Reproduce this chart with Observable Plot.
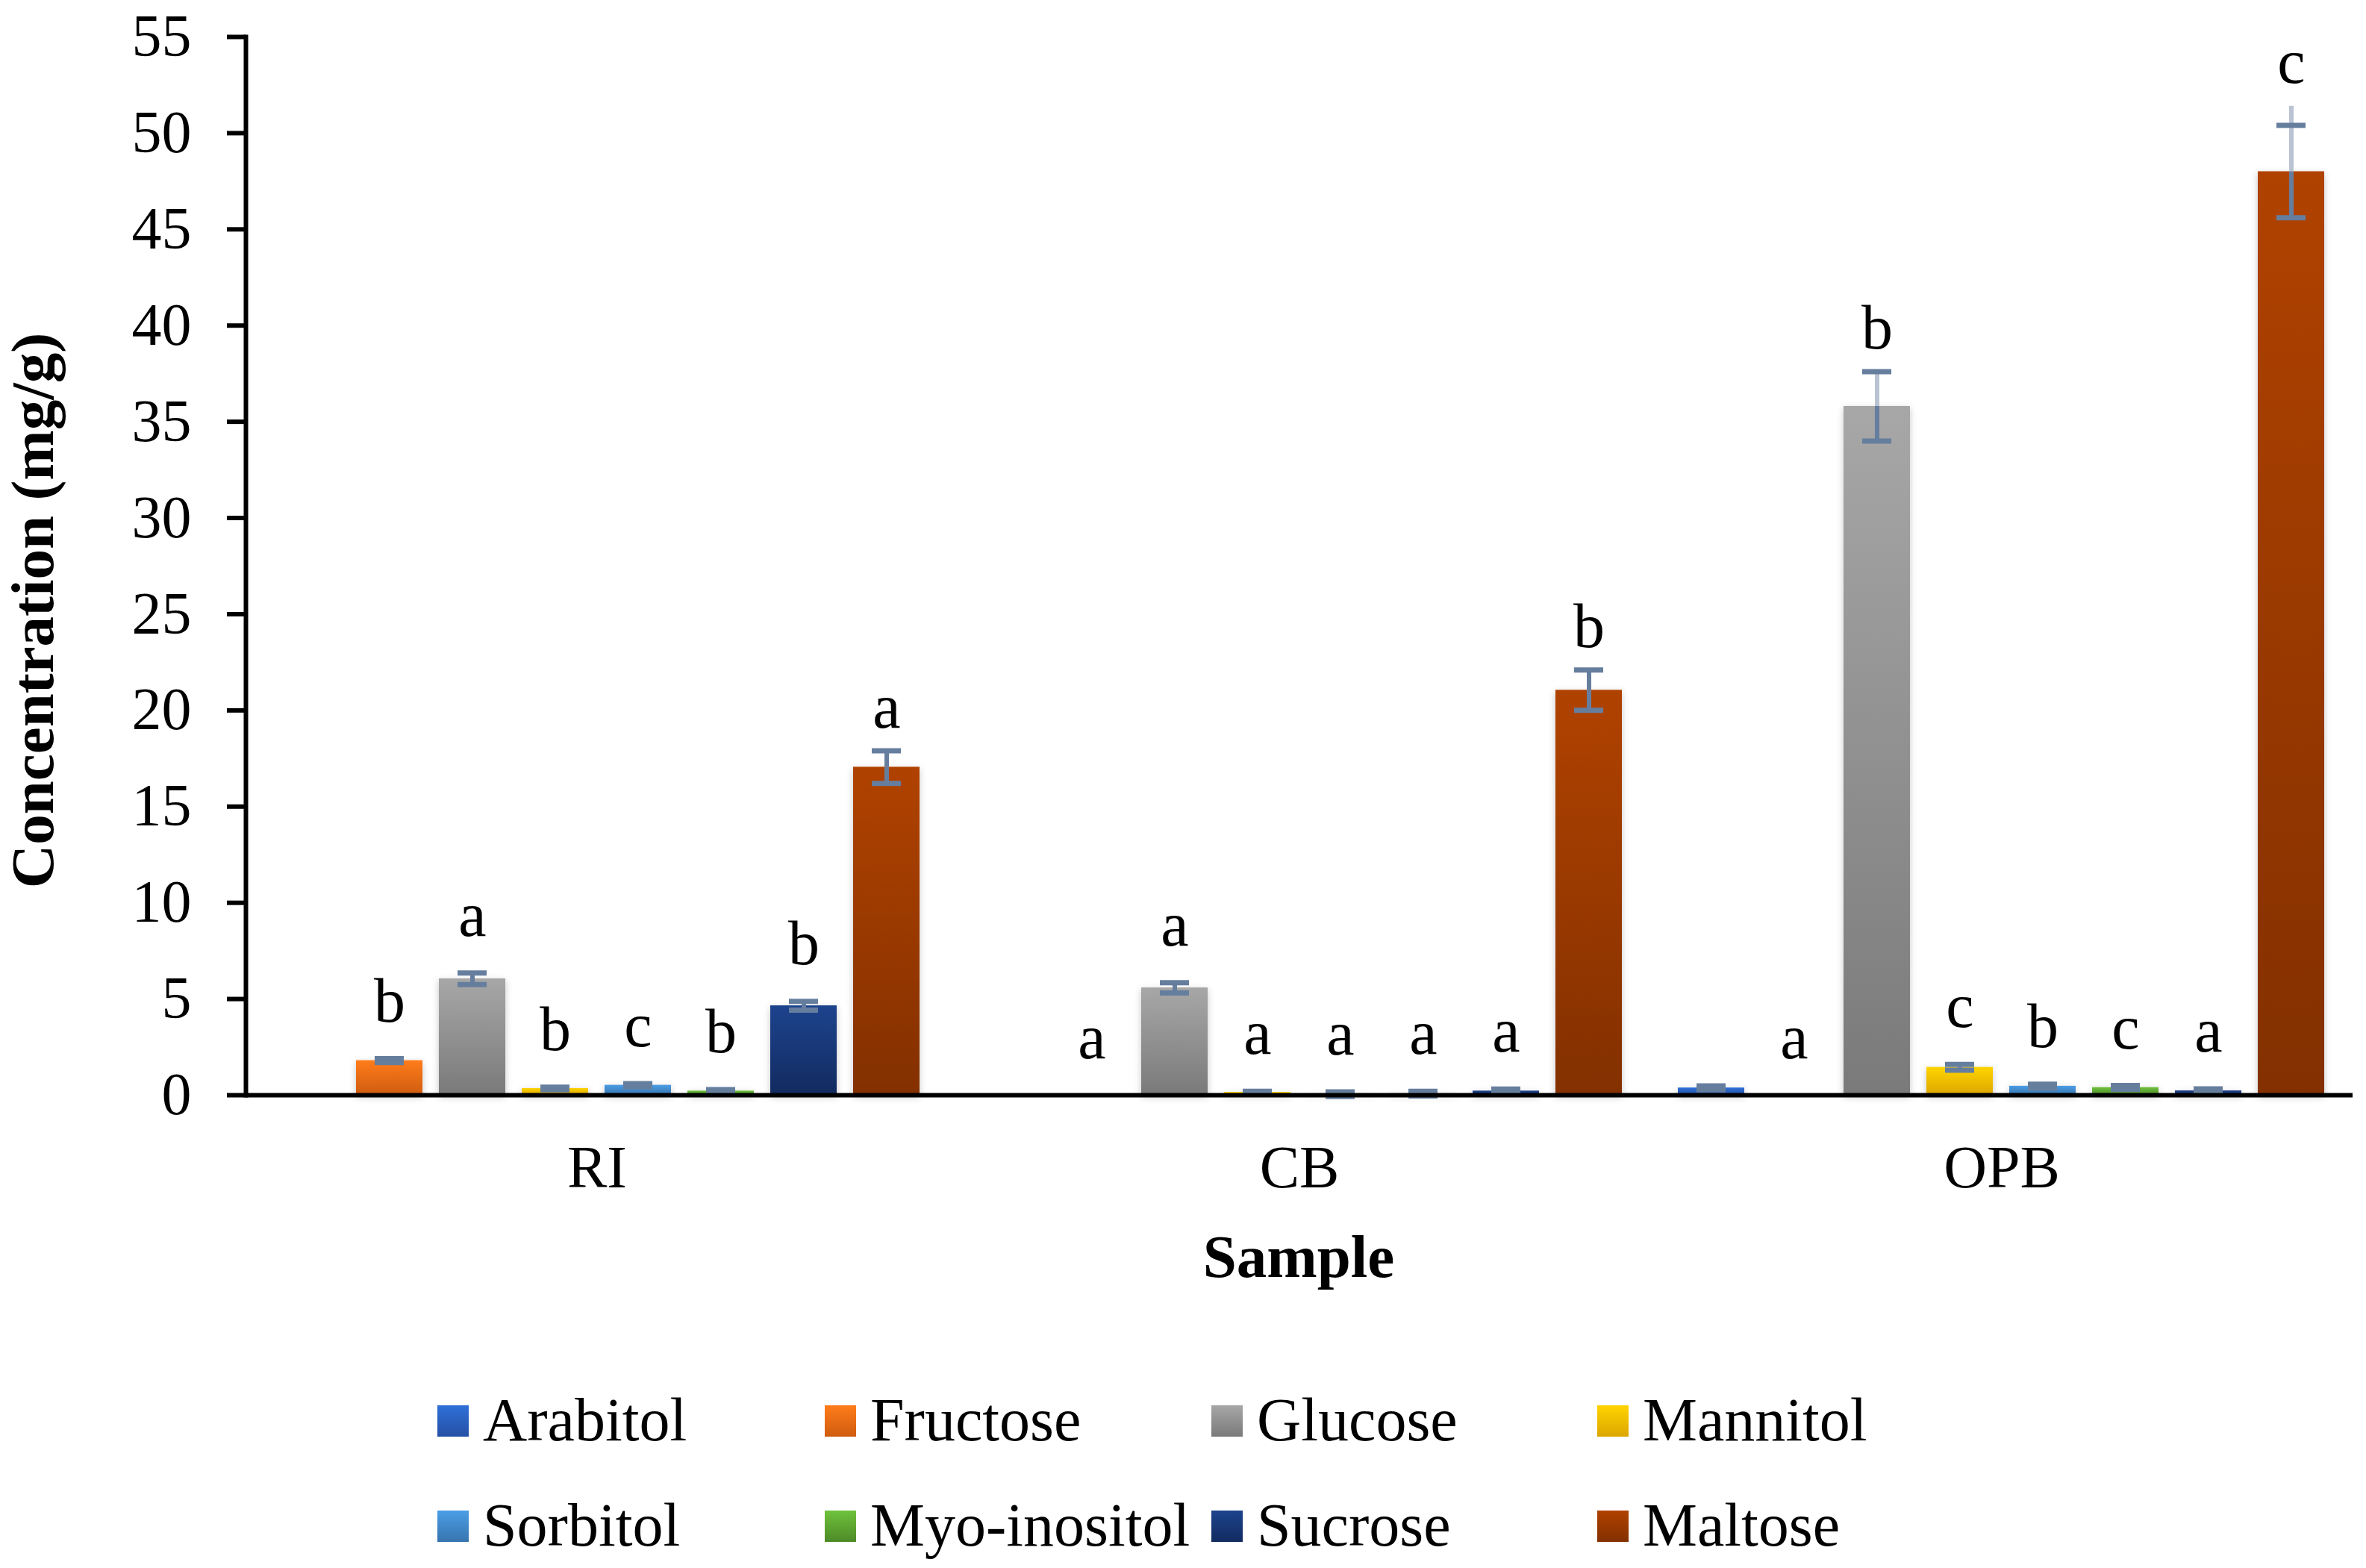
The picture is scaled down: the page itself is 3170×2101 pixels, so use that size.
<!DOCTYPE html>
<html>
<head>
<meta charset="utf-8">
<script src="https://cdn.jsdelivr.net/npm/d3@7"></script>
<script src="https://cdn.jsdelivr.net/npm/@observablehq/plot@0.6"></script>
<style>
  html, body { margin: 0; padding: 0; background: #ffffff; }
  #wrap { position: relative; width: 3170px; height: 2101px; background: #ffffff; font-family: "Liberation Serif", "Times New Roman", serif; color: #000; }
  #chart { position: absolute; left: 0; top: 0; }
  #ytitle { position: absolute; left: 44px; top: 818px; font-size: 81px; font-weight: bold; white-space: nowrap; line-height: 1; transform: translate(-50%, -50%) rotate(-90deg); }
  #xtitle { position: absolute; left: 1740px; top: 1644px; font-size: 81px; font-weight: bold; line-height: 1; transform: translateX(-50%); white-space: nowrap; }
  .leg { position: absolute; font-size: 82px; line-height: 1; white-space: nowrap; }
  .leg .sw { position: absolute; left: 0; top: 21px; width: 42px; height: 42px; }
  .leg .lb { position: absolute; left: 61px; top: 0; }
  svg g[aria-label="bar"] rect { filter: drop-shadow(0px 3px 5px rgba(0,0,0,0.22)); }
</style>
</head>
<body>
<div id="wrap">
  <svg width="0" height="0" style="position:absolute" id="defs"><defs></defs></svg>
  <div id="chart"></div>
  <div id="ytitle">Concentration (mg/g)</div>
  <div id="xtitle">Sample</div>
  <div id="legend"></div>
</div>
<script>
// ---- Data ----
const samples = ["RI", "CB", "OPB"];
const sugars = ["Arabitol", "Fructose", "Glucose", "Mannitol", "Sorbitol", "Myo-inositol", "Sucrose", "Maltose"];

const riValues  = [0,    1.8,  6.05, 0.35, 0.52, 0.22, 4.65, 17.05];
const cbValues  = [0,    0,    5.58, 0.15, 0.05, 0.08, 0.22, 21.05];
const opbValues = [0.38, 0,    35.8, 1.45, 0.47, 0.40, 0.23, 48.0];

const riSD  = [0,    0.1,  0.3,  0.07, 0.08, 0.07, 0.23, 0.85];
const cbSD  = [0,    0,    0.27, 0.05, 0.12, 0.12, 0.1,  1.05];
const opbSD = [0.1,  0,    1.8,  0.15, 0.1,  0.1,  0.1,  2.4];

// upper whisker extension seen on the OPB maltose error bar
const opbStemTop = [null, null, null, null, null, null, null, 51.4];

const riLetters  = ["",  "b", "a", "b", "c", "b", "b", "a"];
const cbLetters  = ["",  "a", "a", "a", "a", "a", "a", "b"];
const opbLetters = ["",  "a", "b", "c", "b", "c", "a", "c"];

const yTicks = [0, 5, 10, 15, 20, 25, 30, 35, 40, 45, 50, 55];

const colorTop    = ["#2f70d8", "#ff7c1a", "#a7a7a7", "#ffd400", "#4b9ee6", "#6fc23d", "#1d438d", "#b04200"];
const colorBottom = ["#2550a4", "#cf5c10", "#7a7a7a", "#dca600", "#3774ae", "#4d8a27", "#122b60", "#833000"];

const errColor = "#667e9e";
const errLight = "#b9c3d1";

// ---- Build table ----
const valueSets = {RI: riValues, CB: cbValues, OPB: opbValues};
const sdSets = {RI: riSD, CB: cbSD, OPB: opbSD};
const letterSets = {RI: riLetters, CB: cbLetters, OPB: opbLetters};
const stemSets = {RI: [], CB: [], OPB: opbStemTop};

const rows = [];
for (const s of samples) {
  sugars.forEach((g, i) => {
    const v = valueSets[s][i], sd = sdSets[s][i];
    const st = stemSets[s][i];
    const hi = v + sd;
    rows.push({
      sample: s, sugar: g, value: v, sd: sd,
      lo: v - sd, hi: hi,
      stemTop: st != null ? st : hi,
      letter: letterSets[s][i],
      top: Math.max(hi, st != null ? st : hi)
    });
  });
}
const errRows = rows.filter(d => d.sd > 0);
const letterSmall = rows.filter(d => d.letter && d.value < 10);
const letterTall = rows.filter(d => d.letter && d.value >= 10);

// ---- Gradients ----
const defs = document.querySelector("#defs defs");
sugars.forEach((g, i) => {
  const lg = document.createElementNS("http://www.w3.org/2000/svg", "linearGradient");
  lg.setAttribute("id", "grad" + i);
  lg.setAttribute("x1", "0"); lg.setAttribute("y1", "0");
  lg.setAttribute("x2", "0"); lg.setAttribute("y2", "1");
  const s1 = document.createElementNS("http://www.w3.org/2000/svg", "stop");
  s1.setAttribute("offset", "0"); s1.setAttribute("stop-color", colorTop[i]);
  const s2 = document.createElementNS("http://www.w3.org/2000/svg", "stop");
  s2.setAttribute("offset", "1"); s2.setAttribute("stop-color", colorBottom[i]);
  lg.appendChild(s1); lg.appendChild(s2);
  defs.appendChild(lg);
});

// ---- Plot ----
const plot = Plot.plot({
  width: 3170,
  height: 1640,
  marginLeft: 328,
  marginRight: 18,
  marginTop: 49,
  marginBottom: 173,
  style: {fontFamily: "Liberation Serif, Times New Roman, serif", background: "transparent", color: "#000"},
  fx: {domain: samples, padding: 0, label: null},
  x: {domain: sugars, paddingInner: 0.196, paddingOuter: 0.3, axis: null},
  y: {domain: [0, 55], axis: null},
  color: {domain: sugars, range: sugars.map((_, i) => `url(#grad${i})`)},
  marks: [
    Plot.barY(rows, {fx: "sample", x: "sugar", y: "value", fill: "sugar"}),
    Plot.ruleX(errRows, {fx: "sample", x: "sugar", y1: "lo", y2: "value", stroke: errColor, strokeWidth: 6}),
    Plot.ruleX(rows.filter(d => d.stemTop > d.value), {fx: "sample", x: "sugar", y1: "value", y2: "stemTop",
      stroke: d => d.sample === "OPB" ? errLight : errColor, strokeWidth: 6}),
    Plot.tickY(errRows, {fx: "sample", x: "sugar", y: "hi", stroke: errColor, strokeWidth: 7, insetLeft: 25, insetRight: 25}),
    Plot.tickY(errRows, {fx: "sample", x: "sugar", y: "lo", stroke: errColor, strokeWidth: 7, insetLeft: 25, insetRight: 25}),
    Plot.text(letterSmall, {fx: "sample", x: "sugar", y: "top", text: "letter", dy: -50, lineAnchor: "bottom", fontSize: 84, fill: "#000"}),
    Plot.text(letterTall, {fx: "sample", x: "sugar", y: "top", text: "letter", dy: -31, lineAnchor: "bottom", fontSize: 84, fill: "#000"}),
    Plot.ruleY([0], {stroke: "#000", strokeWidth: 6}),
    Plot.frame({anchor: "left", fx: () => samples[0], stroke: "#000", strokeWidth: 6}),
    Plot.axisY({ticks: yTicks, tickSize: 25, tickPadding: 48, fontSize: 80, strokeWidth: 6, label: null, tickFormat: d => String(d)}),
    Plot.axisFx({anchor: "bottom", tickSize: 0, tickPadding: 67, fontSize: 80, label: null})
  ]
});
document.getElementById("chart").appendChild(plot);

// ---- Legend ----
const legCols = [586, 1105, 1623, 2140];
const legRows = [1862, 2003];
const legend = document.getElementById("legend");
sugars.forEach((g, i) => {
  const item = document.createElement("div");
  item.className = "leg";
  item.style.left = legCols[i % 4] + "px";
  item.style.top = legRows[Math.floor(i / 4)] + "px";
  const sw = document.createElement("div");
  sw.className = "sw";
  sw.style.background = `linear-gradient(to bottom, ${colorTop[i]}, ${colorBottom[i]})`;
  const lb = document.createElement("div");
  lb.className = "lb";
  lb.textContent = g;
  item.appendChild(sw); item.appendChild(lb);
  legend.appendChild(item);
});
</script>
</body>
</html>
